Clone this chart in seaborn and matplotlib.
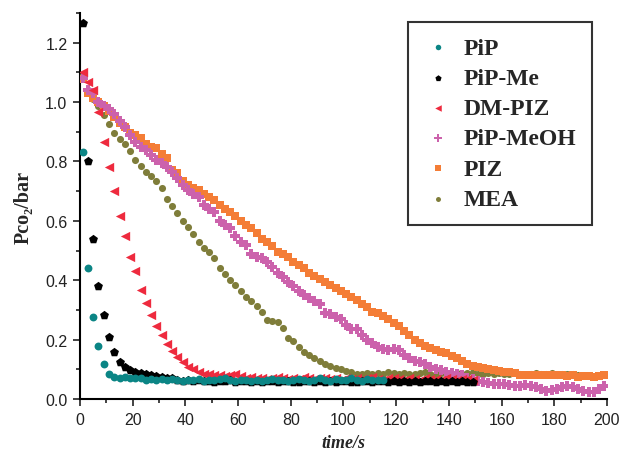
import numpy as np
import pandas as pd
import seaborn as sns
import matplotlib.pyplot as plt
from matplotlib.ticker import MultipleLocator

# time grids (s)
t_pip = np.arange(1, 116, 2)
t_pipme = np.arange(1, 150, 2)
t_dmpiz = np.arange(1, 150, 2)
t_pipmeoh = np.arange(1, 200, 2)
t_piz = np.arange(1, 200, 2)
t_mea = np.arange(1, 190, 2)

# Pco2 / bar
pip = [0.83, 0.44, 0.275, 0.18, 0.12, 0.085, 0.075, 0.072, 0.075, 0.07,
       0.072, 0.07, 0.065, 0.068, 0.066, 0.068, 0.065, 0.067, 0.063, 0.062,
       0.066, 0.064, 0.068, 0.062, 0.065, 0.063, 0.067, 0.072, 0.064, 0.06,
       0.063, 0.066, 0.062, 0.065, 0.06, 0.064, 0.067, 0.063, 0.066, 0.062,
       0.065, 0.068, 0.064, 0.061, 0.066, 0.07, 0.065, 0.062, 0.067, 0.063,
       0.066, 0.07, 0.064, 0.062, 0.067, 0.065, 0.063, 0.066]
pipme = [1.265, 0.80, 0.54, 0.38, 0.283, 0.21, 0.158, 0.124, 0.11, 0.098,
         0.092, 0.088, 0.085, 0.08, 0.077, 0.075, 0.073, 0.07, 0.066, 0.062,
         0.064, 0.061, 0.063, 0.06, 0.062, 0.059, 0.061, 0.06, 0.063, 0.058,
         0.06, 0.062, 0.059, 0.061, 0.057, 0.06, 0.062, 0.058, 0.06, 0.061,
         0.059, 0.057, 0.06, 0.062, 0.058, 0.06, 0.059, 0.061, 0.057, 0.06,
         0.062, 0.059, 0.058, 0.061, 0.06, 0.057, 0.06, 0.062, 0.059, 0.06,
         0.058, 0.061, 0.059, 0.06, 0.057, 0.06, 0.062, 0.058, 0.06, 0.059,
         0.061, 0.058, 0.06, 0.059, 0.058]
dmpiz = [1.10, 1.066, 1.04, 0.965, 0.864, 0.78, 0.70, 0.618, 0.548, 0.48,
         0.43, 0.367, 0.325, 0.282, 0.245, 0.215, 0.185, 0.162, 0.142, 0.124,
         0.11, 0.10, 0.09, 0.086, 0.085, 0.083, 0.08, 0.078, 0.08, 0.085,
         0.078, 0.072, 0.075, 0.07, 0.073, 0.068, 0.072, 0.075, 0.07, 0.068,
         0.072, 0.069, 0.074, 0.07, 0.067, 0.071, 0.073, 0.068, 0.07, 0.066,
         0.072, 0.069, 0.071, 0.067, 0.07, 0.074, 0.068, 0.066, 0.07, 0.072,
         0.068, 0.065, 0.07, 0.068, 0.066, 0.071, 0.069, 0.067, 0.065, 0.07,
         0.068, 0.066, 0.069, 0.067, 0.065]
pipmeoh = [1.08, 1.04, 1.03, 1.0, 0.985, 0.975, 0.96, 0.935, 0.915, 0.89,
           0.865, 0.85, 0.84, 0.82, 0.805, 0.795, 0.78, 0.765, 0.745, 0.72,
           0.705, 0.69, 0.68, 0.655, 0.64, 0.63, 0.60, 0.585, 0.575, 0.55,
           0.53, 0.52, 0.49, 0.48, 0.475, 0.46, 0.445, 0.425, 0.41, 0.395,
           0.38, 0.365, 0.35, 0.34, 0.33, 0.32, 0.29, 0.285, 0.275, 0.27,
           0.25, 0.235, 0.235, 0.215, 0.2, 0.19, 0.175, 0.168, 0.165, 0.168,
           0.165, 0.15, 0.14, 0.13, 0.125, 0.118, 0.11, 0.10, 0.097, 0.09,
           0.087, 0.085, 0.08, 0.072, 0.067, 0.062, 0.058, 0.055, 0.052, 0.05,
           0.052, 0.048, 0.045, 0.044, 0.048, 0.044, 0.04, 0.033, 0.028, 0.03,
           0.035, 0.042, 0.044, 0.04, 0.033, 0.028, 0.025, 0.023, 0.035, 0.044]
piz = [1.076, 1.03, 1.015, 1.0, 0.985, 0.97, 0.95, 0.93, 0.915, 0.895,
       0.89, 0.88, 0.86, 0.85, 0.845, 0.825, 0.81, 0.77, 0.76, 0.735,
       0.72, 0.71, 0.705, 0.69, 0.68, 0.67, 0.655, 0.64, 0.63, 0.615,
       0.60, 0.585, 0.575, 0.56, 0.54, 0.53, 0.515, 0.495, 0.49, 0.48,
       0.46, 0.45, 0.44, 0.425, 0.415, 0.405, 0.395, 0.385, 0.375, 0.365,
       0.355, 0.345, 0.335, 0.32, 0.31, 0.295, 0.29, 0.28, 0.27, 0.255,
       0.245, 0.23, 0.215, 0.20, 0.19, 0.18, 0.172, 0.165, 0.16, 0.155,
       0.145, 0.138, 0.13, 0.12, 0.113, 0.108, 0.105, 0.10, 0.098, 0.095,
       0.093, 0.09, 0.087, 0.083, 0.08, 0.08, 0.082, 0.08, 0.083, 0.08,
       0.081, 0.08, 0.078, 0.082, 0.076, 0.078, 0.077, 0.075, 0.078, 0.08]
mea = [1.09, 1.04, 1.01, 0.985, 0.955, 0.925, 0.895, 0.875, 0.86, 0.835,
       0.805, 0.785, 0.765, 0.75, 0.735, 0.71, 0.675, 0.65, 0.625, 0.60,
       0.58, 0.555, 0.53, 0.51, 0.495, 0.475, 0.44, 0.42, 0.40, 0.385,
       0.365, 0.345, 0.33, 0.315, 0.295, 0.265, 0.262, 0.26, 0.24, 0.205,
       0.195, 0.175, 0.158, 0.15, 0.14, 0.13, 0.12, 0.112, 0.105, 0.10,
       0.095, 0.09, 0.085, 0.085, 0.087, 0.086, 0.088, 0.085, 0.09, 0.087,
       0.085, 0.088, 0.086, 0.084, 0.087, 0.09, 0.086, 0.085, 0.088, 0.084,
       0.086, 0.089, 0.085, 0.087, 0.092, 0.086, 0.084, 0.087, 0.085, 0.088,
       0.086, 0.084, 0.087, 0.085, 0.083, 0.086, 0.088, 0.084, 0.085, 0.087,
       0.083, 0.086, 0.084, 0.085, 0.083]

labels = ['PiP', 'PiP-Me', 'DM-PIZ', 'PiP-MeOH', 'PIZ', 'MEA']
times = [t_pip, t_pipme, t_dmpiz, t_pipmeoh, t_piz, t_mea]
values = [pip, pipme, dmpiz, pipmeoh, piz, mea]
colors = ['#0B8585', '#000000', '#EE2A3E', '#CC62AC', '#F47D36', '#7F7D3A']
markers = ['o', 'p', '<', 'P', 's', 'o']
sizes = [32, 45, 45, 60, 38, 26]

sns.set_style('ticks')
fig, ax = plt.subplots(figsize=(6.2, 4.6), dpi=100)
fig.subplots_adjust(left=0.129, right=0.979, bottom=0.13, top=0.97)

# draw last series first so PiP ends up on top
for i in range(len(labels) - 1, -1, -1):
    df = pd.DataFrame({'t': times[i], 'p': values[i]})
    sns.scatterplot(data=df, x='t', y='p', ax=ax, color=colors[i], marker=markers[i],
                    s=sizes[i], linewidth=0, label=labels[i], zorder=10 - i)

ax.set(xlim=(0, 200), ylim=(0, 1.3))
ax.xaxis.set_major_locator(MultipleLocator(20))
ax.xaxis.set_minor_locator(MultipleLocator(10))
ax.yaxis.set_major_locator(MultipleLocator(0.2))
ax.yaxis.set_minor_locator(MultipleLocator(0.1))
ax.tick_params(which='major', direction='out', length=5, width=1.2, labelsize=11.5,
               colors='#222222', pad=4)
ax.tick_params(which='minor', direction='out', length=3, width=1.2, colors='#222222')
for lab in ax.get_xticklabels() + ax.get_yticklabels():
    lab.set_family(['Liberation Sans', 'DejaVu Sans'])
for s in ['left', 'bottom']:
    ax.spines[s].set_linewidth(1.5)
    ax.spines[s].set_color('black')
sns.despine(ax=ax)

serif = ['Liberation Serif', 'DejaVu Serif']
ax.set_xlabel('time/s', fontsize=13, fontweight='bold', fontstyle='italic', family=serif, labelpad=5)
ax.set_ylabel('Pco\u2082/bar', fontsize=14.5, fontweight='bold', family=serif, labelpad=8)

handles, labs = ax.get_legend_handles_labels()
leg = ax.legend(handles[::-1], labs[::-1], loc='upper right', bbox_to_anchor=(0.971, 0.977),
                borderaxespad=0, frameon=True, fancybox=False, edgecolor='black',
                borderpad=0.65, labelspacing=0.37, handlelength=1.25, handletextpad=0.45,
                markerscale=0.7, prop={'family': serif, 'weight': 'bold', 'size': 17})
leg.get_frame().set_linewidth(1.5)

fig.savefig('out.png', dpi=100)
